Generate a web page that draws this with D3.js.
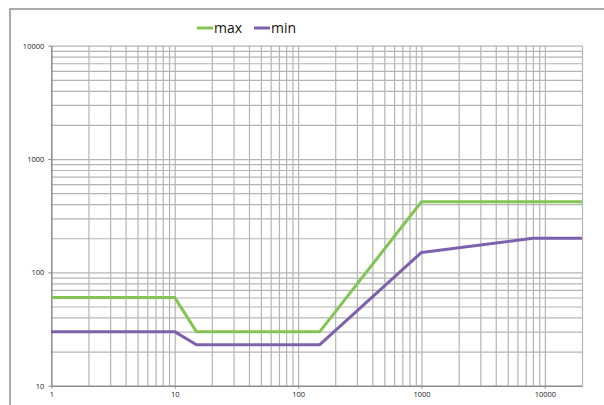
<!DOCTYPE html>
<html>
<head>
<meta charset="utf-8">
<script src="https://cdn.jsdelivr.net/npm/d3@7"></script>
<style>
  body { margin: 0; background: #fff; }
  svg { display: block; font-family: "Open Sans", sans-serif; }
</style>
</head>
<body>
<div id="chart"></div>
<script>
// series
const seriesNames = ['max', 'min']
const maxX = [1, 10, 15, 150, 1000, 20000]
const maxY = [60, 60, 30, 30, 420, 420]
const minX = [1, 10, 15, 150, 1000, 8000, 20000]
const minY = [30, 30, 23, 23, 150, 200, 200]

// axes
const xDomain = [1, 20000]
const yDomain = [10, 10000]
const xLabels = [1, 10, 100, 1000, 10000]
const yLabels = [10, 100, 1000, 10000]

const W = 604, H = 405
const plot = { left: 51.3, right: 582, top: 45.7, bottom: 385.7 }

const x = d3.scaleLog().domain(xDomain).range([plot.left, plot.right])
const y = d3.scaleLog().domain(yDomain).range([plot.bottom, plot.top])

const colors = d3.scaleOrdinal()
    .domain(seriesNames)
    .range(['#84c455', '#7d61ad'])

const svg = d3.select('#chart').append('svg')
    .attr('width', W)
    .attr('height', H)

// outer chart frame
svg.append('rect')
    .attr('x', 10).attr('y', 9)
    .attr('width', W + 10).attr('height', H + 10)
    .attr('fill', 'none')
    .attr('stroke', '#8e8e8e')
    .attr('stroke-width', 1.5)

// grid
const xGrid = x.ticks().filter(d => d > xDomain[0])
const yGrid = y.ticks().filter(d => d > yDomain[0])

svg.append('g')
    .attr('transform', `translate(0,${plot.bottom})`)
    .call(d3.axisBottom(x).tickValues(xGrid).tickSize(-(plot.bottom - plot.top)).tickFormat(''))
    .call(g => g.select('.domain').remove())
    .call(g => g.selectAll('.tick line').attr('stroke', '#b4b4b4').attr('stroke-width', 1.2))

svg.append('g')
    .attr('transform', `translate(${plot.left},0)`)
    .call(d3.axisLeft(y).tickValues(yGrid).tickSize(-(plot.right - plot.left)).tickFormat(''))
    .call(g => g.select('.domain').remove())
    .call(g => g.selectAll('.tick line').attr('stroke', '#b4b4b4').attr('stroke-width', 1.2))

// axes
svg.append('g')
    .attr('transform', `translate(0,${plot.bottom})`)
    .call(d3.axisBottom(x).tickValues(xLabels).tickSize(3).tickSizeOuter(0).tickFormat(d3.format('d')))
    .call(g => g.select('.domain').attr('stroke', '#8a8a8a').attr('stroke-width', 1.5))
    .call(g => g.selectAll('.tick line').attr('stroke', '#8a8a8a'))
    .call(g => g.selectAll('.tick text')
        .attr('font-size', 7.5).attr('fill', '#222').attr('font-family', '"Open Sans", sans-serif')
        .attr('y', 6))

svg.append('g')
    .attr('transform', `translate(${plot.left},0)`)
    .call(d3.axisLeft(y).tickValues(yLabels).tickSize(3).tickSizeOuter(0).tickFormat(d3.format('d')))
    .call(g => g.select('.domain').attr('stroke', '#8a8a8a').attr('stroke-width', 1.5))
    .call(g => g.selectAll('.tick line').attr('stroke', '#8a8a8a'))
    .call(g => g.selectAll('.tick text')
        .attr('font-size', 7.5).attr('fill', '#222').attr('font-family', '"Open Sans", sans-serif')
        .attr('x', -7))

// lines
const line = d3.line()
    .x(d => x(d[0]))
    .y(d => y(d[1]))

const series = [
    { name: 'max', values: d3.zip(maxX, maxY) },
    { name: 'min', values: d3.zip(minX, minY) }
]

svg.append('g')
    .attr('fill', 'none')
    .attr('stroke-width', 3)
    .attr('stroke-linejoin', 'round')
    .selectAll('path')
    .data(series)
    .join('path')
    .attr('stroke', d => colors(d.name))
    .attr('d', d => line(d.values))

// legend
const legendPos = [197, 254]
const legend = svg.append('g')
    .selectAll('g')
    .data(seriesNames)
    .join('g')
    .attr('transform', (d, i) => `translate(${legendPos[i]},28)`)

legend.append('line')
    .attr('x1', 0).attr('x2', 16)
    .attr('stroke', d => colors(d))
    .attr('stroke-width', 3)

legend.append('text')
    .attr('x', 17)
    .attr('y', 5)
    .attr('font-size', 14)
    .attr('fill', '#111')
    .text(d => d)
</script>
</body>
</html>
